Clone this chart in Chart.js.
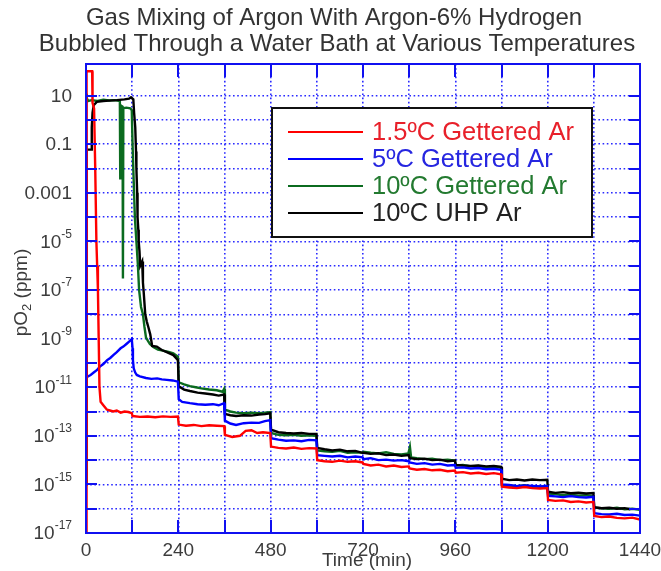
<!DOCTYPE html>
<html>
<head>
<meta charset="utf-8">
<script src="https://cdn.jsdelivr.net/npm/chart.js@4.4.0/dist/chart.umd.min.js"></script>
<style>
  html, body { margin: 0; padding: 0; background: #ffffff; }
  #wrap { width: 661px; height: 571px; position: relative; }
</style>
</head>
<body>
<div id="wrap"><canvas id="c"></canvas></div>
<script>
// ---- title and series labels ----
const titleLines = ['Gas Mixing of Argon With Argon-6% Hydrogen',
                    'Bubbled Through a Water Bath at Various Temperatures'];
const seriesNames = ['1.5ºC Gettered Ar', '5ºC Gettered Ar', '10ºC Gettered Ar', '10ºC UHP Ar'];

// ---- 1.5 ºC gettered argon: time (min) and pO2 (ppm) ----
const timeRed = [
  0, 1, 2, 16, 17, 21, 24, 27, 29, 31, 33, 35, 38,
  45, 54, 62, 71, 80, 90, 100, 110, 119,
  121, 140, 160, 180, 200, 220, 239,
  241, 260, 280, 300, 320, 340, 359,
  361, 380, 400, 415, 430, 445, 460, 479,
  481, 500, 520, 540, 560, 580, 599,
  601, 620, 640, 660, 680, 700, 719,
  721, 740, 760, 780, 800, 820, 839,
  841, 860, 880, 900, 920, 940, 959,
  961, 980, 1000, 1020, 1040, 1060, 1079,
  1081, 1100, 1120, 1140, 1160, 1180, 1199,
  1201, 1220, 1240, 1260, 1280, 1300, 1319,
  1321, 1340, 1360, 1380, 1400, 1420, 1440
];
const pO2Red = [
  1e-17, 1e-17, 100, 100, 5, 3, 1e-2, 1e-5, 1e-6, 1e-7, 1e-9, 1e-11, 2.5e-12,
  1.8e-12, 1.2e-12, 1.1e-12, 1e-12, 1.1e-12, 9e-13, 1e-12, 9.5e-13, 8.5e-13,
  6.5e-13, 6e-13, 6.2e-13, 5.8e-13, 6.3e-13, 6e-13, 6.2e-13,
  2.9e-13, 2.6e-13, 2.8e-13, 2.5e-13, 2.7e-13, 2.6e-13, 2.5e-13,
  1.1e-13, 9e-14, 1e-13, 1.6e-13, 1.7e-13, 1.3e-13, 1.4e-13, 1.3e-13,
  3.6e-14, 3.2e-14, 3e-14, 3.3e-14, 2.9e-14, 3.1e-14, 3e-14,
  1e-14, 9e-15, 8.5e-15, 9.5e-15, 8.5e-15, 9e-15, 8e-15,
  7e-15, 6e-15, 6.5e-15, 5.5e-15, 6e-15, 5.2e-15, 5.5e-15,
  4.5e-15, 4e-15, 4.3e-15, 3.8e-15, 4e-15, 3.5e-15, 3.7e-15,
  3e-15, 3.2e-15, 2.8e-15, 3e-15, 2.7e-15, 2.9e-15, 2.6e-15,
  8e-16, 7.5e-16, 7e-16, 7.8e-16, 7e-16, 6.8e-16, 7e-16,
  2.3e-16, 2.1e-16, 2.2e-16, 1.9e-16, 2e-16, 1.8e-16, 1.9e-16,
  5e-17, 4.5e-17, 4.8e-17, 4.2e-17, 4e-17, 4.3e-17, 3.6e-17
];

// ---- 5 ºC gettered argon ----
const timeBlue = [
  0, 1, 6, 12, 20, 28, 36, 45, 55, 63, 71, 80, 90, 97, 105, 112, 119,
  121, 122, 124, 128, 132, 140, 156, 170, 185, 197, 210, 225, 239,
  241, 250, 270, 290, 310, 330, 345, 359,
  361, 375, 390, 410, 430, 450, 465, 479,
  481, 500, 520, 540, 560, 580, 599,
  601, 620, 640, 660, 680, 700, 719,
  721, 740, 760, 780, 800, 820, 839,
  841, 860, 880, 900, 920, 940, 959,
  961, 980, 1000, 1020, 1040, 1060, 1079,
  1081, 1100, 1120, 1140, 1160, 1180, 1199,
  1201, 1220, 1240, 1260, 1280, 1300, 1319,
  1321, 1340, 1360, 1380, 1400, 1420, 1440
];
const pO2Blue = [
  6, 2.5e-11, 2.8e-11, 3.2e-11, 4e-11, 5e-11, 7e-11, 9e-11, 1.3e-10, 1.6e-10, 2.1e-10, 2.8e-10, 4e-10, 4.7e-10, 6e-10, 7.5e-10, 9.5e-10,
  4e-10, 1.3e-10, 6e-11, 4e-11, 3.2e-11, 2.8e-11, 2.4e-11, 2.2e-11, 2.3e-11, 2.1e-11, 2e-11, 1.9e-11, 1.7e-11,
  3.2e-12, 2.5e-12, 2.2e-12, 2e-12, 1.9e-12, 2e-12, 1.8e-12, 2.2e-12,
  4.2e-13, 3.2e-13, 2.8e-13, 3.3e-13, 3.5e-13, 3.4e-13, 4e-13, 4.4e-13,
  8e-14, 7e-14, 6.3e-14, 6.5e-14, 6e-14, 6.8e-14, 6.5e-14,
  1.6e-14, 1.5e-14, 1.4e-14, 1.5e-14, 1.3e-14, 1.4e-14, 1.3e-14,
  1.1e-14, 1.2e-14, 1e-14, 1.05e-14, 9.5e-15, 1e-14, 9e-15,
  8e-15, 7e-15, 7.5e-15, 6.5e-15, 7e-15, 6e-15, 6.3e-15,
  4.8e-15, 5e-15, 4.5e-15, 4.7e-15, 4.2e-15, 4.4e-15, 4e-15,
  1e-15, 9.5e-16, 8.5e-16, 9e-16, 8.7e-16, 8.2e-16, 8.5e-16,
  3.4e-16, 3.2e-16, 3e-16, 3.3e-16, 3e-16, 2.9e-16, 3.1e-16,
  6.5e-17, 6e-17, 5.8e-17, 6.2e-17, 5.5e-17, 5.7e-17, 5.2e-17
];

// ---- 10 ºC gettered argon ----
const timeGreen = [
  0, 2, 5, 15, 30, 45, 60, 75, 88, 89, 90, 95, 96, 97, 105, 115, 119,
  121, 124, 127, 131, 135, 138, 143, 148, 152, 156, 161, 166, 175, 187, 200, 215, 227, 239,
  241, 255, 270, 285, 300, 320, 340, 355, 359,
  361, 375, 390, 410, 430, 450, 465, 479,
  481, 500, 520, 540, 560, 580, 599,
  601, 620, 640, 660, 680, 700, 719,
  721, 740, 760, 780, 800, 820, 838, 842, 845,
  860, 880, 900, 920, 940, 959,
  961, 980, 1000, 1020, 1040, 1060, 1079,
  1081, 1100, 1120, 1140, 1160, 1180, 1199,
  1201, 1220, 1240, 1260, 1280, 1300, 1319,
  1321, 1340, 1360, 1380, 1400, 1420, 1440
];
const pO2Green = [
  12, 8, 6, 6.5, 6, 6.8, 6.3, 6.5, 6, 0.004, 4, 3.5, 3e-7, 3, 3.2, 3, 2.5,
  0.1, 3e-3, 1e-4, 1e-5, 1e-6, 1e-7, 2e-8, 1e-8, 3e-9, 1.1e-9, 8e-10, 6e-10, 4.5e-10, 3.5e-10, 3.2e-10, 2.8e-10, 2.5e-10, 1.8e-10,
  1.6e-11, 1.3e-11, 1.1e-11, 1e-11, 9e-12, 8e-12, 7.5e-12, 6.5e-12, 8.5e-12,
  1.2e-12, 1e-12, 9e-13, 8.5e-13, 9e-13, 8.5e-13, 9e-13, 9.5e-13,
  1.3e-13, 1.1e-13, 1.05e-13, 1.1e-13, 1e-13, 1.05e-13, 1e-13,
  2.5e-14, 2.3e-14, 2.2e-14, 2.4e-14, 2e-14, 2.1e-14, 2e-14,
  2.2e-14, 2e-14, 1.9e-14, 2.1e-14, 1.8e-14, 1.7e-14, 1.9e-14, 3.5e-14, 1.3e-14,
  1.2e-14, 1.1e-14, 1.15e-14, 1e-14, 1.05e-14, 9.5e-15,
  6e-15, 6.3e-15, 5.5e-15, 5.8e-15, 5e-15, 5.3e-15, 4.8e-15,
  9.5e-16, 9e-16, 8.5e-16, 9.2e-16, 8e-16, 8.3e-16, 7.8e-16,
  4.2e-16, 4e-16, 3.6e-16, 3.8e-16, 3.4e-16, 3.6e-16, 3.3e-16,
  1.1e-16, 1.05e-16, 1e-16, 1.1e-16, 9.5e-17, 1e-16, 9e-17
];

// ---- 10 ºC UHP argon ----
const timeBlack = [
  0, 1, 2, 14, 15, 17, 20, 28, 45, 60, 80, 100, 112, 117, 123,
  125, 128, 130, 131, 133, 134, 136, 137, 139, 141, 146, 148, 150, 154, 158, 162, 167, 172, 184, 197, 210, 227, 239,
  241, 255, 270, 290, 310, 330, 345, 359,
  361, 375, 390, 410, 430, 450, 465, 479,
  481, 500, 520, 540, 560, 580, 599,
  601, 620, 640, 660, 680, 700, 719,
  721, 740, 760, 780, 800, 820, 839,
  841, 860, 880, 900, 920, 940, 959,
  961, 980, 1000, 1020, 1040, 1060, 1079,
  1081, 1100, 1120, 1140, 1160, 1180, 1199,
  1201, 1220, 1240, 1260, 1280, 1300, 1319,
  1321, 1340, 1360, 1380, 1400, 1415
];
const pO2Black = [
  1e-15, 1e-15, 0.06, 0.06, 0.5, 2, 4, 5.5, 6, 6.2, 6.5, 7, 7.5, 8.5, 7,
  2, 0.5, 0.05, 1e-2, 1e-3, 1e-4, 3e-5, 1e-5, 4e-6, 1e-6, 1.5e-6, 2e-7, 8e-8, 1e-8, 5e-9, 3e-9, 1.5e-9, 5e-10, 4.7e-10, 3.4e-10, 2.8e-10, 2.1e-10, 1.3e-10,
  1.1e-11, 8e-12, 7e-12, 6e-12, 5.5e-12, 5e-12, 4.5e-12, 5e-12,
  8e-13, 7e-13, 6.5e-13, 7e-13, 6.8e-13, 7.5e-13, 7.8e-13, 8.5e-13,
  1.8e-13, 1.4e-13, 1.3e-13, 1.25e-13, 1.3e-13, 1.2e-13, 1.2e-13,
  3.2e-14, 2.8e-14, 2.5e-14, 2.7e-14, 2.3e-14, 2.4e-14, 2e-14,
  2e-14, 1.8e-14, 1.9e-14, 1.6e-14, 1.7e-14, 1.5e-14, 1.6e-14,
  1.2e-14, 1.1e-14, 1.15e-14, 1e-14, 1.05e-14, 9e-15, 9.5e-15,
  6.3e-15, 6e-15, 5.8e-15, 6e-15, 5.5e-15, 5.7e-15, 5.3e-15,
  1.7e-15, 1.5e-15, 1.6e-15, 1.45e-15, 1.6e-15, 1.5e-15, 1.55e-15,
  5e-16, 4.5e-16, 4.8e-16, 4.3e-16, 4.5e-16, 4.2e-16, 4.4e-16,
  1.15e-16, 1.05e-16, 1.1e-16, 1e-16, 1.05e-16, 9.5e-17
];

// ---- axes ----
const timeGridMarks = [0, 120, 240, 360, 480, 600, 720, 840, 960, 1080, 1200, 1320, 1440];
const timeTickLabels = [0, 240, 480, 720, 960, 1200, 1440];
const decadeMarks = [1e-17, 1e-16, 1e-15, 1e-14, 1e-13, 1e-12, 1e-11, 1e-10, 1e-9, 1e-8,
                     1e-7, 1e-6, 1e-5, 1e-4, 1e-3, 1e-2, 1e-1, 1, 10];
const pO2LabelValues = [10, 0.1, 0.001, 1e-5, 1e-7, 1e-9, 1e-11, 1e-13, 1e-15, 1e-17];
const pO2LabelBase   = ['10', '0.1', '0.001', '10', '10', '10', '10', '10', '10', '10'];
const pO2LabelExp    = ['', '', '', '-5', '-7', '-9', '-11', '-13', '-15', '-17'];

const FONT = '"Liberation Sans", Arial, Helvetica, sans-serif';
const AXIS_BLUE = '#1010f0';
const GRID_BLUE = '#2a2aff';
const LABEL_GREY = '#3c3c3c';
const seriesColors = ['#ff0000', '#0000ff', '#0b6b1f', '#000000'];
const textColors   = ['#e8202a', '#2626e0', '#237a30', '#222222'];

function toPoints(times, values) {
  return times.map((t, i) => ({ x: t, y: values[i] }));
}

// title, frame, inward ticks, pO2 tick labels, axis titles and the boxed legend
const framePlugin = {
  id: 'framePlugin',
  afterDraw(chart) {
    const { ctx } = chart;
    ctx.save();
    ctx.fillStyle = '#333333';
    ctx.font = '24px ' + FONT;
    ctx.textAlign = 'center';
    ctx.textBaseline = 'middle';
    ctx.fillText(titleLines[0], 334, 18);
    ctx.fillText(titleLines[1], 337, 44);
    ctx.restore();
  },
  afterDatasetsDraw(chart) {
    const { ctx, chartArea: a, scales: { x, y } } = chart;
    ctx.save();

    // solid inward tick marks on all four sides
    ctx.strokeStyle = AXIS_BLUE;
    ctx.lineWidth = 2;
    ctx.beginPath();
    timeGridMarks.forEach(t => {
      const px = Math.round(x.getPixelForValue(t));
      ctx.moveTo(px, a.bottom); ctx.lineTo(px, a.bottom - 13);
      ctx.moveTo(px, a.top);    ctx.lineTo(px, a.top + 13);
    });
    decadeMarks.forEach(v => {
      const py = Math.round(y.getPixelForValue(v));
      ctx.moveTo(a.left, py);  ctx.lineTo(a.left + 11, py);
      ctx.moveTo(a.right, py); ctx.lineTo(a.right - 11, py);
    });
    ctx.stroke();
    ctx.strokeRect(a.left, a.top, a.right - a.left, a.bottom - a.top);

    // pO2 tick labels with raised exponents
    ctx.fillStyle = LABEL_GREY;
    ctx.textBaseline = 'middle';
    const labelRight = a.left - 14;
    pO2LabelValues.forEach((v, i) => {
      const py = y.getPixelForValue(v);
      const exp = pO2LabelExp[i];
      let right = labelRight;
      if (exp) {
        ctx.font = '12px ' + FONT;
        ctx.textAlign = 'right';
        ctx.fillText(exp, right, py - 7);
        right -= ctx.measureText(exp).width;
      }
      ctx.font = '19px ' + FONT;
      ctx.textAlign = 'right';
      ctx.fillText(pO2LabelBase[i], right, py + 1);
    });

    // y-axis title: pO2 (ppm), with subscript 2
    ctx.save();
    ctx.translate(22, (a.top + a.bottom) / 2 - 6);
    ctx.rotate(-Math.PI / 2);
    ctx.textBaseline = 'middle';
    ctx.textAlign = 'left';
    const p1 = 'pO', p3 = ' (ppm)';
    ctx.font = '13px ' + FONT;
    const w2 = ctx.measureText('2').width;
    ctx.font = '19px ' + FONT;
    const w1 = ctx.measureText(p1).width, w3 = ctx.measureText(p3).width;
    let sx = -(w1 + w2 + w3) / 2;
    ctx.fillText(p1, sx, 0); sx += w1;
    ctx.font = '13px ' + FONT;
    ctx.fillText('2', sx, 5); sx += w2;
    ctx.font = '19px ' + FONT;
    ctx.fillText(p3, sx, 0);
    ctx.restore();

    // x-axis title
    ctx.font = '19px ' + FONT;
    ctx.textAlign = 'center';
    ctx.textBaseline = 'middle';
    ctx.fillStyle = LABEL_GREY;
    ctx.fillText('Time (min)', (a.left + a.right) / 2 + 4, 561);

    // legend box
    const lx = a.left + 186, ly = a.top + 44, lw = 320, lh = 129;
    ctx.fillStyle = '#ffffff';
    ctx.fillRect(lx, ly, lw, lh);
    ctx.strokeStyle = '#111111';
    ctx.lineWidth = 2;
    ctx.strokeRect(lx, ly, lw, lh);
    ctx.font = '25.5px ' + FONT;
    ctx.textAlign = 'left';
    ctx.textBaseline = 'middle';
    seriesNames.forEach((name, i) => {
      const ry = ly + 24 + i * 27;
      ctx.strokeStyle = seriesColors[i];
      ctx.lineWidth = 2;
      ctx.beginPath();
      ctx.moveTo(lx + 16, ry); ctx.lineTo(lx + 91, ry);
      ctx.stroke();
      ctx.fillStyle = textColors[i];
      ctx.fillText(name, lx + 100, ry + 1);
    });

    ctx.restore();
  }
};

const datasets = [
  { label: seriesNames[0], data: toPoints(timeRed, pO2Red),     borderColor: seriesColors[0] },
  { label: seriesNames[1], data: toPoints(timeBlue, pO2Blue),   borderColor: seriesColors[1] },
  { label: seriesNames[3], data: toPoints(timeBlack, pO2Black), borderColor: seriesColors[3] },
  { label: seriesNames[2], data: toPoints(timeGreen, pO2Green), borderColor: seriesColors[2] }
].map(d => Object.assign(d, { borderWidth: 2.4, pointRadius: 0, tension: 0, fill: false }));

new Chart(document.getElementById('c'), {
  type: 'line',
  data: { datasets },
  plugins: [framePlugin],
  options: {
    responsive: true,
    maintainAspectRatio: false,
    animation: false,
    layout: { padding: { left: 0, right: 21, top: 64, bottom: 0 } },
    plugins: {
      legend: { display: false },
      tooltip: { enabled: false },
      title: { display: false }
    },
    scales: {
      x: {
        type: 'linear',
        min: 0,
        max: 1440,
        afterBuildTicks: s => { s.ticks = timeGridMarks.map(v => ({ value: v })); },
        afterFit: s => { s.height = 38; s.paddingLeft = 0; s.paddingRight = 0; },
        ticks: {
          autoSkip: false,
          maxRotation: 0,
          padding: 6,
          color: LABEL_GREY,
          font: { family: FONT, size: 19 },
          callback: v => (timeTickLabels.includes(v) ? String(v) : '')
        },
        grid: { color: GRID_BLUE, lineWidth: 1.6, drawTicks: false },
        border: { display: false, dash: [1.6, 2.6] }
      },
      y: {
        type: 'logarithmic',
        min: 1e-17,
        max: 200,
        afterBuildTicks: s => { s.ticks = decadeMarks.map(v => ({ value: v })); },
        afterFit: s => { s.width = 86; s.paddingTop = 0; s.paddingBottom = 0; },
        ticks: { display: false },
        grid: { color: GRID_BLUE, lineWidth: 1.6, drawTicks: false },
        border: { display: false, dash: [1.6, 2.6] }
      }
    }
  }
});
</script>
</body>
</html>
